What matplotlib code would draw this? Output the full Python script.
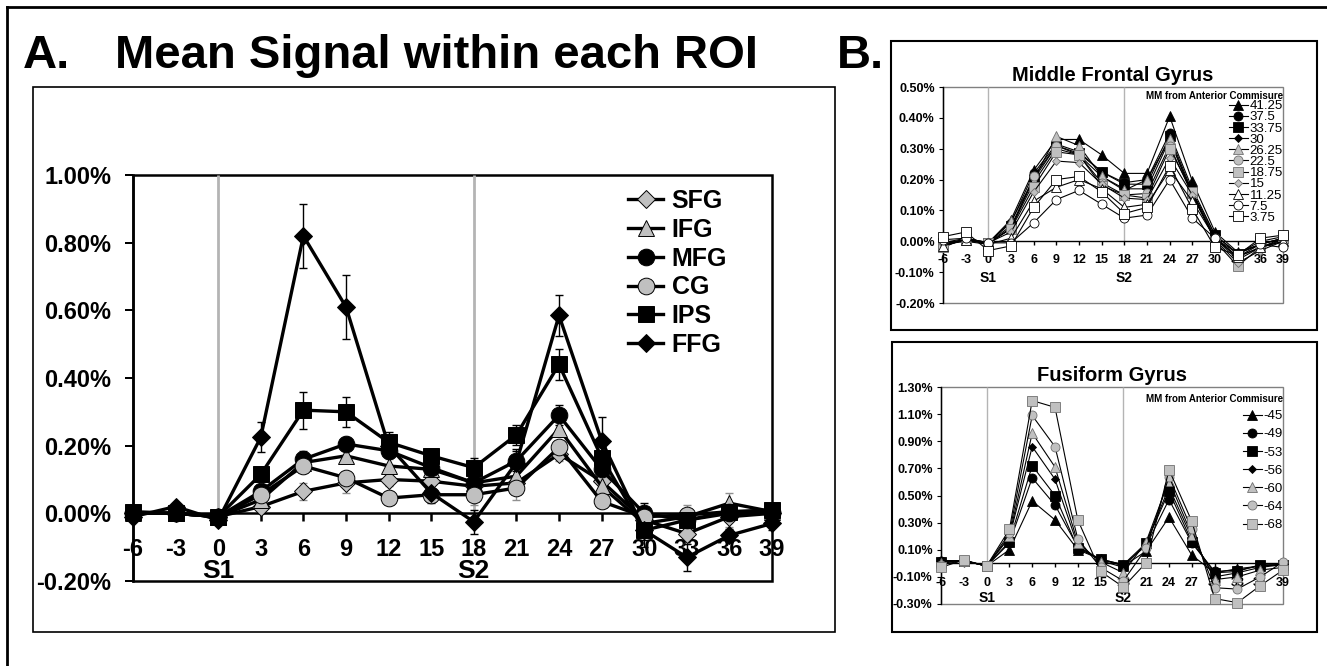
import matplotlib
matplotlib.use("Agg")
import matplotlib.pyplot as plt
from matplotlib.patches import Rectangle
from matplotlib.lines import Line2D
from matplotlib.ticker import FuncFormatter
import matplotlib.transforms as mtransforms

plt.rcParams['font.family'] = ['Liberation Sans', 'DejaVu Sans']
plt.rcParams['font.weight'] = 'bold'
plt.rcParams['axes.unicode_minus'] = False

W, H = 1327, 666

# seconds from trial onset
TIME = [-6, -3, 0, 3, 6, 9, 12, 15, 18, 21, 24, 27, 30, 33, 36, 39]
STIM_ONSETS = [0, 18]
STIM_LABELS = ["S1", "S2"]

# Panel A: mean % signal change per ROI
ROI_NAMES = ["SFG", "IFG", "MFG", "CG", "IPS", "FFG"]
SFG = [0.00, 0.00, -0.01, 0.02, 0.065, 0.09, 0.10, 0.095, 0.08, 0.09, 0.175, 0.095, -0.02, -0.06, -0.01, 0.00]
IFG = [0.00, 0.00, -0.01, 0.04, 0.15, 0.17, 0.14, 0.13, 0.09, 0.11, 0.25, 0.08, -0.03, -0.01, 0.03, 0.005]
MFG = [0.00, 0.00, -0.01, 0.065, 0.16, 0.205, 0.185, 0.135, 0.09, 0.155, 0.29, 0.13, 0.00, -0.02, 0.00, 0.00]
CG = [0.00, 0.00, -0.01, 0.055, 0.14, 0.105, 0.045, 0.055, 0.055, 0.075, 0.195, 0.035, -0.01, -0.005, 0.005, 0.005]
IPS = [0.005, 0.00, -0.01, 0.115, 0.305, 0.30, 0.21, 0.17, 0.135, 0.232, 0.44, 0.165, -0.05, -0.02, 0.005, 0.01]
FFG = [-0.01, 0.02, -0.02, 0.225, 0.82, 0.61, 0.20, 0.06, -0.025, 0.15, 0.585, 0.215, -0.05, -0.13, -0.065, -0.03]

SFG_ERR = [0.01, 0.01, 0.01, 0.02, 0.025, 0.03, 0.02, 0.02, 0.02, 0.02, 0.02, 0.02, 0.02, 0.03, 0.03, 0.02]
IFG_ERR = [0.01, 0.01, 0.01, 0.02, 0.02, 0.02, 0.02, 0.02, 0.02, 0.02, 0.02, 0.02, 0.02, 0.02, 0.03, 0.02]
MFG_ERR = [0.01, 0.01, 0.01, 0.02, 0.025, 0.02, 0.02, 0.02, 0.02, 0.03, 0.03, 0.02, 0.03, 0.02, 0.02, 0.02]
CG_ERR = [0.01, 0.01, 0.01, 0.02, 0.02, 0.02, 0.02, 0.02, 0.03, 0.035, 0.02, 0.02, 0.02, 0.03, 0.02, 0.02]
IPS_ERR = [0.01, 0.01, 0.01, 0.02, 0.055, 0.045, 0.03, 0.02, 0.03, 0.03, 0.045, 0.03, 0.03, 0.02, 0.02, 0.02]
FFG_ERR = [0.01, 0.01, 0.01, 0.045, 0.095, 0.095, 0.03, 0.03, 0.035, 0.04, 0.06, 0.07, 0.05, 0.04, 0.02, 0.02]

# Panel B top: middle frontal gyrus slices (mm from anterior commissure)
MFG_SLICES = ["41.25", "37.5", "33.75", "30", "26.25", "22.5", "18.75", "15", "11.25", "7.5", "3.75"]
MFG_SLICE_VALUES = [
    [-0.01, 0.005, -0.005, 0.07, 0.23, 0.33, 0.33, 0.28, 0.22, 0.22, 0.405, 0.195, 0.03, -0.035, -0.01, 0.01],
    [-0.005, 0.005, -0.005, 0.06, 0.22, 0.315, 0.29, 0.225, 0.19, 0.20, 0.35, 0.17, 0.02, -0.04, -0.01, 0.01],
    [-0.005, 0.01, -0.005, 0.05, 0.20, 0.31, 0.285, 0.225, 0.185, 0.185, 0.34, 0.16, 0.02, -0.04, 0.00, 0.015],
    [-0.01, 0.00, -0.01, 0.045, 0.19, 0.30, 0.28, 0.21, 0.17, 0.17, 0.33, 0.15, 0.01, -0.05, -0.01, 0.01],
    [-0.015, 0.005, -0.005, 0.065, 0.20, 0.34, 0.31, 0.21, 0.165, 0.20, 0.33, 0.155, 0.01, -0.05, -0.02, 0.005],
    [-0.01, 0.005, -0.005, 0.04, 0.21, 0.31, 0.28, 0.19, 0.15, 0.155, 0.31, 0.15, 0.01, -0.06, -0.02, 0.00],
    [-0.02, 0.01, -0.005, 0.04, 0.175, 0.29, 0.28, 0.18, 0.15, 0.14, 0.30, 0.16, 0.00, -0.08, -0.02, 0.01],
    [-0.01, 0.005, -0.005, 0.03, 0.16, 0.26, 0.255, 0.185, 0.14, 0.135, 0.27, 0.15, 0.005, -0.07, -0.03, 0.00],
    [-0.015, 0.005, -0.01, 0.01, 0.13, 0.175, 0.20, 0.17, 0.11, 0.12, 0.23, 0.13, 0.01, -0.05, -0.02, 0.00],
    [0.005, 0.01, -0.005, -0.005, 0.06, 0.135, 0.165, 0.12, 0.075, 0.085, 0.20, 0.075, 0.01, -0.04, -0.01, -0.02],
    [0.015, 0.03, -0.03, -0.015, 0.11, 0.20, 0.21, 0.16, 0.09, 0.11, 0.245, 0.105, -0.02, -0.045, 0.01, 0.02],
]

# Panel B bottom: fusiform gyrus slices
FFG_SLICES = ["-45", "-49", "-53", "-56", "-60", "-64", "-68"]
FFG_SLICE_VALUES = [
    [0.02, 0.02, -0.02, 0.10, 0.46, 0.32, 0.10, 0.03, -0.02, 0.09, 0.34, 0.06, -0.07, -0.04, -0.02, -0.01],
    [0.02, 0.02, -0.02, 0.15, 0.63, 0.43, 0.12, 0.03, -0.01, 0.13, 0.47, 0.15, -0.06, -0.05, -0.02, -0.01],
    [0.01, 0.02, -0.02, 0.16, 0.72, 0.50, 0.11, 0.03, -0.01, 0.15, 0.53, 0.16, -0.07, -0.06, -0.01, -0.01],
    [0.01, 0.02, -0.02, 0.19, 0.86, 0.62, 0.13, 0.02, -0.03, 0.15, 0.56, 0.19, -0.10, -0.07, -0.03, -0.01],
    [0.00, 0.02, -0.02, 0.20, 0.96, 0.71, 0.15, 0.01, -0.07, 0.16, 0.61, 0.21, -0.12, -0.10, -0.05, -0.03],
    [-0.01, 0.02, -0.02, 0.22, 1.09, 0.86, 0.18, -0.03, -0.13, 0.11, 0.64, 0.25, -0.18, -0.19, -0.10, 0.01],
    [-0.03, 0.025, -0.02, 0.25, 1.20, 1.15, 0.32, -0.06, -0.175, 0.005, 0.69, 0.31, -0.26, -0.29, -0.165, -0.05],
]

GRAY = "#c0c0c0"
VLINE_GRAY = "#b4b4b4"
FRAME_GRAY = "#808080"


def px_axes(fig, left, top, right, bottom):
    return fig.add_axes([left / W, 1 - bottom / H, (right - left) / W, (bottom - top) / H])


def px_box(fig, left, top, right, bottom, lw):
    fig.add_artist(Rectangle((left / W, 1 - bottom / H), (right - left) / W, (bottom - top) / H,
                             transform=fig.transFigure, fill=False, lw=lw, ec="black"))


def pct(v, _):
    return f"{v:.2f}%"


def setup_axes(ax, ylim, yticks, frame_color, frame_lw, fs, tick_len, xpad, ypad, stim_fs, stim_y, vline_lw):
    ax.set_xlim(TIME[0], TIME[-1])
    ax.set_ylim(*ylim)
    ax.set_xticks(TIME)
    ax.set_yticks(yticks)
    ax.yaxis.set_major_formatter(FuncFormatter(pct))
    for side in ["top", "right"]:
        ax.spines[side].set_visible(False)
    # x axis crosses at zero, the plot area keeps its own frame
    ax.spines["bottom"].set_position(("data", 0))
    ax.spines["bottom"].set_linewidth(frame_lw)
    ax.spines["left"].set_linewidth(frame_lw)
    ax.add_patch(Rectangle((0, 0), 1, 1, transform=ax.transAxes, fill=False,
                           ec=frame_color, lw=frame_lw, clip_on=False, zorder=0.5))
    ax.tick_params(axis="x", direction="out", length=tick_len, width=frame_lw, labelsize=fs, pad=xpad)
    ax.tick_params(axis="y", direction="out", length=tick_len, width=frame_lw * 0.8, labelsize=fs, pad=ypad)
    ax.vlines(STIM_ONSETS, 0, ylim[1], color=VLINE_GRAY, lw=vline_lw, zorder=1)
    trans = mtransforms.blended_transform_factory(ax.transData, ax.transAxes)
    for x, lbl in zip(STIM_ONSETS, STIM_LABELS):
        ax.text(x, stim_y, lbl, transform=trans, ha="center", va="center", fontsize=stim_fs)


def slice_panel(ax, title, names, values, styles, anchor_y, spacing):
    for name, vals, (mk, fc) in zip(names, values, styles):
        ms = 4.5 if mk == "D" else 6.5
        ax.plot(TIME, vals, color="black", lw=0.8, marker=mk, ms=ms, mfc=fc,
                mec="black" if fc != GRAY else "#707070", mew=0.6, label=name, zorder=3, clip_on=False)
    ax.set_title(title, fontsize=14.5, fontweight="bold", pad=4)
    ax.legend(loc="upper right", bbox_to_anchor=(1.0, anchor_y), frameon=False,
              prop={"weight": "normal", "size": 9.5}, labelspacing=spacing, handlelength=1.45,
              handletextpad=0.15, borderpad=0, borderaxespad=0, alignment="right",
              title="MM from Anterior Commisure", title_fontproperties={"weight": "bold", "size": 7})


fig = plt.figure(figsize=(W / 100, H / 100), dpi=100)

# outer frame, only top and left edges show
fig.add_artist(Line2D([7 / W, 1], [1 - 7 / H, 1 - 7 / H], transform=fig.transFigure, color="black", lw=2))
fig.add_artist(Line2D([7 / W, 7 / W], [0, 1 - 7 / H], transform=fig.transFigure, color="black", lw=2))

px_box(fig, 33, 87, 835, 632, 1.2)
px_box(fig, 891, 41, 1317, 330, 1.5)
px_box(fig, 892, 342, 1317, 632, 1.5)

fig.text(23 / W, 1 - 68 / H, "A.", fontsize=34, va="baseline", ha="left")
fig.text(115 / W, 1 - 68 / H, "Mean Signal within each ROI", fontsize=34, va="baseline", ha="left")
fig.text(837 / W, 1 - 68 / H, "B.", fontsize=34, va="baseline", ha="left")

# Panel A
axA = px_axes(fig, 133, 175, 772, 581)
setup_axes(axA, (-0.2, 1.0), [-0.2, 0.0, 0.2, 0.4, 0.6, 0.8, 1.0], "black", 1.8, 17,
           5.5, 12.5, 10, 19, 0.024, 2)

roi_values = [SFG, IFG, MFG, CG, IPS, FFG]
roi_errs = [SFG_ERR, IFG_ERR, MFG_ERR, CG_ERR, IPS_ERR, FFG_ERR]
roi_styles = [("D", GRAY, 9.5), ("^", GRAY, 12), ("o", "black", 12), ("o", GRAY, 12), ("s", "black", 12), ("D", "black", 9)]
legend_handles = []
for name, vals, errs, (mk, fc, ms) in zip(ROI_NAMES, roi_values, roi_errs, roi_styles):
    ecol = "#909090" if fc == GRAY else "black"
    axA.errorbar(TIME, vals, yerr=errs, fmt="none", ecolor=ecol, elinewidth=1, capsize=3, capthick=1, zorder=2)
    line, = axA.plot(TIME, vals, color="black", lw=2.4, marker=mk, ms=ms, mfc=fc,
                     mec="black" if fc == GRAY else fc, mew=0.7, label=name, zorder=3, clip_on=False)
    legend_handles.append(line)

axA.legend(handles=legend_handles, loc="upper left", bbox_to_anchor=((628 - 133) / 639, (581 - 189) / 406),
           frameon=False, fontsize=18, labelspacing=0.19, handlelength=1.4, handletextpad=0.35,
           borderpad=0, borderaxespad=0)

# Panel B
slice_styles_mfg = [("^", "black"), ("o", "black"), ("s", "black"), ("D", "black"),
                    ("^", GRAY), ("o", GRAY), ("s", GRAY), ("D", GRAY),
                    ("^", "white"), ("o", "white"), ("s", "white")]
slice_styles_ffg = [("^", "black"), ("o", "black"), ("s", "black"), ("D", "black"),
                    ("^", GRAY), ("o", GRAY), ("s", GRAY)]

axB1 = px_axes(fig, 943, 87, 1283, 303)
setup_axes(axB1, (-0.2, 0.5), [-0.2, -0.1, 0.0, 0.1, 0.2, 0.3, 0.4, 0.5], FRAME_GRAY, 1, 9,
           3, 6.5, 3, 10, 0.116, 1)
slice_panel(axB1, "Middle Frontal Gyrus", MFG_SLICES, MFG_SLICE_VALUES, slice_styles_mfg,
            (303 - 91) / 216, -0.08)

axB2 = px_axes(fig, 941, 387, 1283, 604)
setup_axes(axB2, (-0.3, 1.3), [-0.3, -0.1, 0.1, 0.3, 0.5, 0.7, 0.9, 1.1, 1.3], FRAME_GRAY, 1, 9,
           3, 6.5, 3, 10, 0.028, 1)
slice_panel(axB2, "Fusiform Gyrus", FFG_SLICES, FFG_SLICE_VALUES, slice_styles_ffg,
            (604 - 394) / 217, 0.45)

fig.savefig("out.png", dpi=100)
